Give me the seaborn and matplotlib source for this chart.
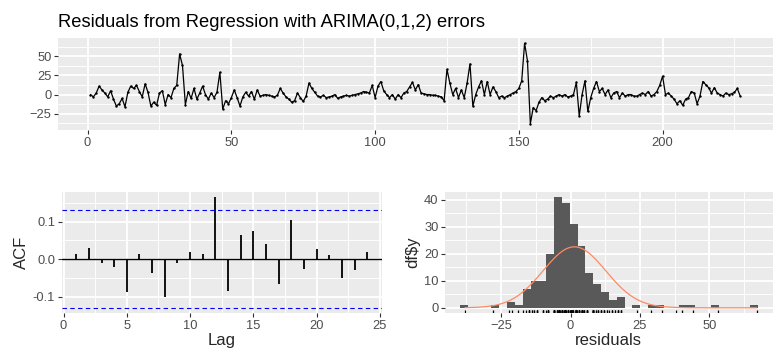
import numpy as np
import pandas as pd
import matplotlib
matplotlib.use("Agg")
import matplotlib.pyplot as plt
import seaborn as sns
from matplotlib.ticker import FixedLocator

# ---------------- data ----------------
title = "Residuals from Regression with ARIMA(0,1,2) errors"

residuals = [
    0, -3, 2, 11, 6, 2, -3, 5, -6, -15,
    -12, -5, -16, 3, 11, 8, 12, 4, -3, 14,
    3, -15, -10, -14, 2, 5, -13, 0, -4, 8,
    12, 53, 38, -13, 4, -5, 8, -6, 2, 11,
    0, -6, 2, -4, 3, 29, -19, -8, -12, -4,
    6, -4, -15, -3, 3, -2, 4, -6, 6, -2,
    -1, 0, -1, -2, -3, -1, 8, 2, -3, -6,
    -10, -8, 2, -4, -9, -2, 15, 8, 3, -2,
    -3, -1, -4, -3, -2, 0, -5, -3, -2, -1,
    -2, -1, 0, 1, 2, 4, 3, 2, 12, -4,
    11, 17, 5, 0, -4, 0, -6, 0, -4, 2,
    4, 10, 16, 6, 13, 2, 1, 0, 0, -1,
    -1, -2, -3, -8, 33, 15, 0, 8, -4, 6,
    -4, 15, 40, -15, 0, 10, 18, 0, 17, 0,
    10, 4, -4, -2, -4, -2, 0, 2, 4, 8,
    18, 67, 44, -38, -17, -21, -10, -4, -8, -6,
    -2, -4, -2, 0, -2, 0, -3, -2, 0, 16,
    -28, 0, 18, -22, -4, 8, 17, 4, 8, 0,
    6, -4, 2, 4, -4, 2, -2, 0, 0, -2,
    -2, 0, 2, 0, 4, -2, 0, 4, 12, 24,
    0, 2, -2, -6, -12, -8, -14, -6, -4, 4,
    2, -12, -2, 17, 13, 9, 2, 9, 2, 0,
    -2, 2, 0, 1, 3, 8, -2,
]

acf_lags = list(range(1, 25))
acf_values = [0.013, 0.029, -0.011, -0.020, -0.088, 0.013, -0.038, -0.100,
              -0.011, 0.020, 0.013, 0.165, -0.085, 0.064, 0.076, 0.039,
              -0.067, 0.104, -0.027, 0.026, 0.011, -0.051, -0.029, 0.020]

hist_first_edge = -39.76
hist_bin_width = 2.82
hist_counts = [1, 0, 0, 0, 1, 0, 2, 1, 7, 10, 10, 20, 41, 39, 31, 23, 13, 9, 6,
               3, 4, 0, 1, 0, 1, 1, 0, 0, 1, 1, 0, 0, 1, 0, 0, 0, 0, 1]

# ---------------- style ----------------
sns.set_theme(style="darkgrid")
plt.rcParams['font.family'] = ['Liberation Sans', 'DejaVu Sans']

BG = "#EBEBEB"
TICKLAB = "#4D4D4D"
TICKCOL = "#333333"

W, H = 781, 360
fig = plt.figure(figsize=(W / 100, H / 100), dpi=100)
fig.patch.set_facecolor("white")


def px_axes(l, t, r, b):
    return fig.add_axes([l / W, 1 - b / H, (r - l) / W, (b - t) / H])


def style(ax):
    ax.set_facecolor(BG)
    for s in ax.spines.values():
        s.set_visible(False)
    ax.set_axisbelow(True)
    ax.grid(which="major", color="white", linewidth=1.3)
    ax.grid(which="minor", color="white", linewidth=0.65)
    ax.tick_params(which="major", length=2.7, width=0.8, color=TICKCOL,
                   labelsize=9.3, labelcolor=TICKLAB, pad=2,
                   bottom=True, left=True)
    ax.tick_params(which="minor", length=0, bottom=False, left=False)


ax1 = px_axes(58, 37.7, 772.7, 130)
ax2 = px_axes(61.7, 191.7, 381.7, 313.3)
ax3 = px_axes(445, 191.7, 772.7, 313.3)

# ---------------- top: residual series ----------------
n = len(residuals)
df = pd.DataFrame({"t": np.arange(1, n + 1), "r": residuals})
sns.lineplot(data=df, x="t", y="r", ax=ax1, color="black", linewidth=0.9)
sns.scatterplot(data=df, x="t", y="r", ax=ax1, color="black", s=3,
                linewidth=0)
style(ax1)
xr = n - 1
ax1.set_xlim(1 - 0.05 * xr, n + 0.05 * xr)
rmin, rmax = min(residuals), max(residuals)
rr = rmax - rmin
ax1.set_ylim(rmin - 0.05 * rr - 3, rmax + 0.05 * rr + 2)
ax1.xaxis.set_major_locator(FixedLocator([0, 50, 100, 150, 200]))
ax1.xaxis.set_minor_locator(FixedLocator([25, 75, 125, 175, 225]))
ax1.yaxis.set_major_locator(FixedLocator([-25, 0, 25, 50]))
ax1.yaxis.set_minor_locator(FixedLocator([-37.5, -12.5, 12.5, 37.5, 62.5]))
ax1.set_xlabel("")
ax1.set_ylabel("")

fig.text(58 / W, 1 - 27 / H, title, fontsize=13.2, ha="left", va="baseline",
         color="black")

# ---------------- bottom left: ACF ----------------
ci = 1.96 / np.sqrt(n)
style(ax2)
ax2.axhline(0, color="black", linewidth=1.0, zorder=2)
ax2.vlines(acf_lags, 0, acf_values, color="black", linewidth=1.3, zorder=3)
ax2.axhline(ci, color="blue", linewidth=0.8, linestyle=(0, (4, 3)), zorder=3)
ax2.axhline(-ci, color="blue", linewidth=0.8, linestyle=(0, (4, 3)), zorder=3)
ax2.set_xlim(-0.15, 25.15)
ax2.set_ylim(-0.1448, 0.1798)
ax2.xaxis.set_major_locator(FixedLocator([0, 5, 10, 15, 20, 25]))
ax2.xaxis.set_minor_locator(FixedLocator([2.5, 7.5, 12.5, 17.5, 22.5]))
ax2.yaxis.set_major_locator(FixedLocator([-0.1, 0.0, 0.1]))
ax2.yaxis.set_minor_locator(FixedLocator([-0.05, 0.05, 0.15]))
ax2.set_yticklabels(["-0.1", "0.0", "0.1"])
ax2.set_xlabel("Lag", fontsize=12, labelpad=1)
ax2.set_ylabel("ACF", fontsize=12, labelpad=3)

# ---------------- bottom right: histogram ----------------
nb = len(hist_counts)
edges = hist_first_edge + hist_bin_width * np.arange(nb + 1)
centers = (edges[:-1] + edges[1:]) / 2
hdf = pd.DataFrame({"x": centers, "w": hist_counts})
sns.histplot(data=hdf, x="x", weights="w", bins=list(edges), ax=ax3,
             color="#595959", alpha=1, linewidth=0)
sns.rugplot(x=residuals, ax=ax3, height=0.03, color="black", linewidth=0.9)
mu = float(np.mean(residuals))
sd = float(np.std(residuals, ddof=1))
xs = np.linspace(rmin, rmax, 300)
ys = n * hist_bin_width * np.exp(-0.5 * ((xs - mu) / sd) ** 2) / (sd * np.sqrt(2 * np.pi))
sns.lineplot(x=xs, y=ys, ax=ax3, color="#ff8a62", linewidth=0.9)
style(ax3)
ax3.set_xlim(-45.2, 72.8)
ax3.set_ylim(-2.05, 43.05)
ax3.xaxis.set_major_locator(FixedLocator([-25, 0, 25, 50]))
ax3.xaxis.set_minor_locator(FixedLocator([-37.5, -12.5, 12.5, 37.5, 62.5]))
ax3.yaxis.set_major_locator(FixedLocator([0, 10, 20, 30, 40]))
ax3.yaxis.set_minor_locator(FixedLocator([5, 15, 25, 35]))
ax3.set_xlabel("residuals", fontsize=12, labelpad=1)
ax3.set_ylabel("df$y", fontsize=12, labelpad=3)

fig.savefig("out.png", dpi=100, facecolor="white")
